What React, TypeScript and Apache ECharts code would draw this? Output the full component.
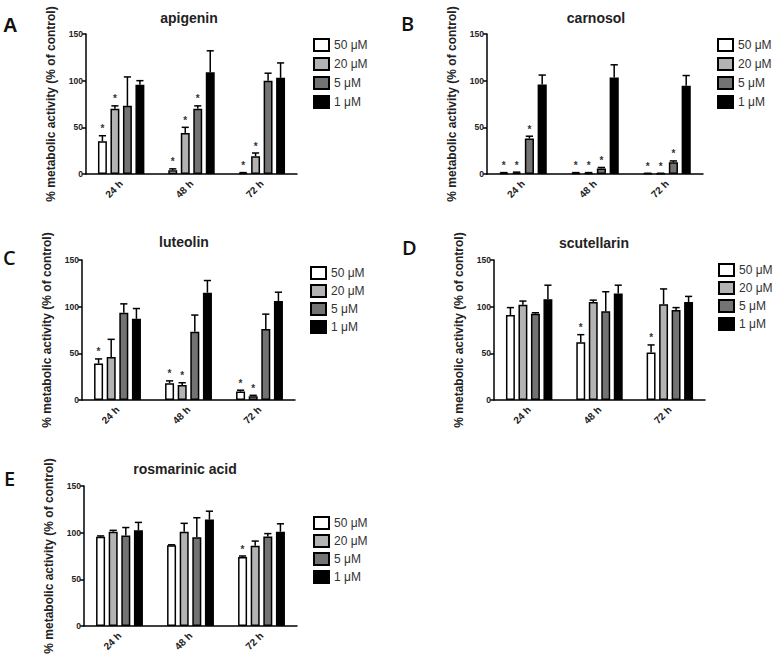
import React, { useEffect, useRef } from "react";
import * as echarts from "echarts";

const times = ["24 h", "48 h", "72 h"];
const concs = ["50 μM", "20 μM", "5 μM", "1 μM"];
const compounds = ["apigenin", "carnosol", "luteolin", "scutellarin", "rosmarinic acid"];
const panelLetters = ["A", "B", "C", "D", "E"];
const yTicks = [0, 50, 100, 150];

// mean values [concentration][time]
const apigeninMean = [[35, 4, 1], [70, 44, 19], [73, 70, 100], [95.5, 109, 103]];
const apigeninErr = [[6, 1.5, 0.5], [3, 6, 3.5], [31, 3, 8], [4.5, 23, 16]];
const apigeninSig = [[1, 1, 1], [1, 1, 1], [0, 1, 0], [0, 0, 0]];

const carnosolMean = [[1, 1, 0.5], [1.5, 1, 0.5], [38, 6, 12.5], [96, 103.5, 94.5]];
const carnosolErr = [[0.5, 0.5, 0.3], [0.5, 0.5, 0.3], [2.5, 1, 1.5], [10, 13.5, 11]];
const carnosolSig = [[1, 1, 1], [1, 1, 1], [1, 1, 1], [0, 0, 0]];

const luteolinMean = [[39, 18, 9], [46, 16, 4], [93.5, 73, 76], [87, 115, 106]];
const luteolinErr = [[5, 2.5, 1.5], [19, 2.5, 1], [9.5, 18, 16], [11, 13, 9.5]];
const luteolinSig = [[1, 1, 1], [0, 1, 1], [0, 0, 0], [0, 0, 0]];

const scutellarinMean = [[91, 62, 51], [102, 105, 102.5], [92.5, 95, 96.5], [108, 114, 105]];
const scutellarinErr = [[8, 8, 8], [4, 2, 16.5], [1, 21, 2.5], [15, 9, 6]];
const scutellarinSig = [[0, 1, 1], [0, 0, 0], [0, 0, 0], [0, 0, 0]];

const rosmarinicMean = [[95.5, 86.5, 74], [101, 101, 86], [97, 95, 96], [102.5, 114, 101]];
const rosmarinicErr = [[1, 0.5, 1], [1.5, 9, 5], [8.5, 21, 3], [8.5, 9, 8.5]];
const rosmarinicSig = [[0, 0, 1], [0, 0, 0], [0, 0, 0], [0, 0, 0]];

const means = [apigeninMean, carnosolMean, luteolinMean, scutellarinMean, rosmarinicMean];
const errs = [apigeninErr, carnosolErr, luteolinErr, scutellarinErr, rosmarinicErr];
const sigs = [apigeninSig, carnosolSig, luteolinSig, scutellarinSig, rosmarinicSig];

const barColors = ["#ffffff", "#b3b3b3", "#737373", "#000000"];

const grids = [
  { left: 86, top: 34, width: 211, height: 140 },
  { left: 487, top: 34, width: 216, height: 140 },
  { left: 82, top: 260, width: 213, height: 140 },
  { left: 494, top: 260, width: 211, height: 140 },
  { left: 84, top: 486, width: 213, height: 140 },
];
const titlePos = [
  { x: 184, y: 6 }, { x: 591, y: 6 }, { x: 179, y: 230 }, { x: 589, y: 231 }, { x: 180, y: 457 },
];
const letterPos = [
  { x: 3, y: 27 }, { x: 401, y: 25 }, { x: 3, y: 259 }, { x: 402, y: 249 }, { x: 4, y: 480 },
];
const legendPos = [
  { left: 313, top: 38, gap: 5 }, { left: 717, top: 38, gap: 5 }, { left: 310, top: 266, gap: 4 },
  { left: 718, top: 263, gap: 4 }, { left: 313, top: 516, gap: 4 },
];

const FONT = "Liberation Sans, Arial, sans-serif";
const CAT_GAP = 0.34;
const BAR_GAP = 0.4;

function buildOption() {
  const series: any[] = [];
  const xAxis: any[] = [];
  const yAxis: any[] = [];
  const title: any[] = [];
  const legend: any[] = [];
  compounds.forEach((name, p) => {
    xAxis.push({
      type: "category",
      gridIndex: p,
      data: times,
      axisLine: { lineStyle: { color: "#000", width: 1.5 } },
      axisTick: { alignWithLabel: true, length: 4, lineStyle: { color: "#000", width: 1.5 } },
      axisLabel: { rotate: 45, fontSize: 10, fontWeight: "bold", color: "#222", fontFamily: FONT, margin: 8 },
    });
    yAxis.push({
      type: "value",
      gridIndex: p,
      min: yTicks[0],
      max: yTicks[yTicks.length - 1],
      interval: 50,
      splitLine: { show: false },
      axisLine: { show: true, lineStyle: { color: "#000", width: 1.5 } },
      axisTick: { show: true, length: 4, lineStyle: { color: "#000", width: 1.5 } },
      axisLabel: { fontSize: 8.5, fontWeight: "bold", color: "#222", fontFamily: FONT, margin: 3 },
      name: "% metabolic activity (% of control)",
      nameLocation: "middle",
      nameGap: 29,
      nameTextStyle: { fontSize: 12, fontWeight: "bold", color: "#222", fontFamily: FONT },
    });
    title.push({
      text: name,
      left: titlePos[p].x,
      top: titlePos[p].y,
      textAlign: "center",
      textStyle: { fontSize: 14, fontWeight: "bold", color: "#222", fontFamily: FONT },
    });
    legend.push({
      data: concs,
      orient: "vertical",
      left: legendPos[p].left,
      top: legendPos[p].top,
      itemWidth: 15,
      itemHeight: 12,
      itemGap: legendPos[p].gap,
      icon: "rect",
      padding: 0,
      selectedMode: false,
      textStyle: { fontSize: 12, color: "#333", fontFamily: FONT, padding: [0, 0, 0, 0] },
    });
    concs.forEach((c, ci) => {
      series.push({
        type: "bar",
        name: c,
        xAxisIndex: p,
        yAxisIndex: p,
        data: means[p][ci],
        barGap: `${BAR_GAP * 100}%`,
        barCategoryGap: `${CAT_GAP * 100}%`,
        itemStyle: { color: barColors[ci], borderColor: "#000", borderWidth: 1.5 },
      });
    });
    const errData: any[] = [];
    times.forEach((t, ti) => {
      concs.forEach((c, ci) => {
        const m = means[p][ci][ti];
        errData.push([ti, ci, m, m + errs[p][ci][ti], sigs[p][ci][ti]]);
      });
    });
    series.push({
      type: "custom",
      xAxisIndex: p,
      yAxisIndex: p,
      data: errData,
      encode: { x: 0, y: 3 },
      z: 5,
      renderItem: (params: any, api: any) => {
        const ti = api.value(0);
        const ci = api.value(1);
        const m = api.value(2);
        const hi = api.value(3);
        const s = api.value(4);
        const band = api.size([1, 0])[0];
        const n = concs.length;
        const w = (band * (1 - CAT_GAP)) / (n + (n - 1) * BAR_GAP);
        const total = n * w + (n - 1) * BAR_GAP * w;
        const cx = api.coord([ti, 0])[0];
        const x = cx - total / 2 + ci * w * (1 + BAR_GAP) + w / 2;
        const yM = api.coord([ti, m])[1];
        const yH = api.coord([ti, hi])[1];
        const stroke = { stroke: "#000", lineWidth: 1.5 };
        const children: any[] = [
          { type: "line", shape: { x1: x, y1: yM, x2: x, y2: yH }, style: stroke },
          { type: "line", shape: { x1: x - w * 0.4, y1: yH, x2: x + w * 0.4, y2: yH }, style: stroke },
        ];
        if (s) {
          children.push({
            type: "text",
            x: x,
            y: yH - 2,
            style: { text: "*", fontSize: 10, fontWeight: "bold", fill: "#333", align: "center", verticalAlign: "bottom", fontFamily: FONT },
          });
        }
        return { type: "group", children };
      },
    });
  });
  const graphic = panelLetters.map((l, i) => ({
    type: "text",
    left: letterPos[i].x,
    top: letterPos[i].y - 12,
    style: { text: l, fontSize: 20, fontWeight: i === 0 ? "bold" : 600, fill: "#111", fontFamily: i === 0 ? FONT : "Open Sans, sans-serif" },
  }));
  return {
    animation: false,
    backgroundColor: "#fff",
    grid: grids.map((g) => ({ ...g, containLabel: false })),
    xAxis,
    yAxis,
    title,
    legend,
    series,
    graphic,
  };
}

export default function App() {
  const ref = useRef<HTMLDivElement>(null);
  useEffect(() => {
    if (!ref.current) return;
    const chart = echarts.init(ref.current, undefined, { renderer: "svg" });
    chart.setOption(buildOption() as any);
    return () => chart.dispose();
  }, []);
  return <div ref={ref} style={{ position: "absolute", left: 0, top: 0, width: 778, height: 662 }} />;
}
